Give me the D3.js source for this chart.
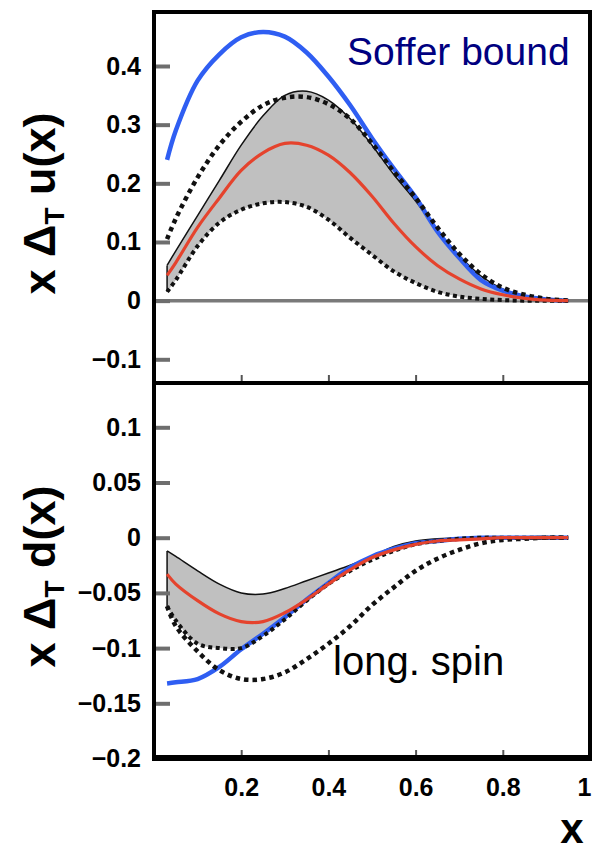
<!DOCTYPE html>
<html>
<head>
<meta charset="utf-8">
<script src="https://cdn.jsdelivr.net/npm/d3@7"></script>
<style>
  body { margin: 0; background: #fff; }
  svg { display: block; font-family: "Liberation Sans", Arial, sans-serif; }
</style>
</head>
<body>
<div id="chart"></div>
<script>
////////////////////////////// Data //////////////////////////////
var xGrid = [0.03, 0.05, 0.1, 0.15, 0.2, 0.25, 0.3, 0.35, 0.4, 0.45, 0.5, 0.55, 0.6, 0.65, 0.7, 0.75, 0.8, 0.85, 0.9, 0.95]

// x Delta_T u(x)
var uSoffer   = [0.24, 0.29, 0.375, 0.42, 0.449, 0.458, 0.45, 0.423, 0.382, 0.333, 0.277, 0.225, 0.176, 0.118, 0.073, 0.035, 0.017, 0.007, 0.002, 0]
var uUpper    = [0.06, 0.085, 0.145, 0.205, 0.265, 0.315, 0.35, 0.357, 0.342, 0.31, 0.265, 0.215, 0.17, 0.12, 0.077, 0.042, 0.02, 0.008, 0.002, 0]
var uLower    = [0.015, 0.035, 0.093, 0.133, 0.155, 0.166, 0.168, 0.16, 0.138, 0.107, 0.078, 0.05, 0.03, 0.015, 0.007, 0.003, 0.001, 0, 0, 0]
var uCentral  = [0.043, 0.065, 0.125, 0.175, 0.222, 0.252, 0.268, 0.265, 0.248, 0.218, 0.178, 0.132, 0.092, 0.06, 0.037, 0.02, 0.01, 0.004, 0.001, 0]
var uLongSpin = [0.105, 0.14, 0.21, 0.265, 0.305, 0.333, 0.346, 0.347, 0.335, 0.31, 0.268, 0.22, 0.175, 0.125, 0.08, 0.045, 0.022, 0.01, 0.003, 0]

// x Delta_T d(x)
var dSoffer   = [-0.132, -0.131, -0.128, -0.117, -0.101, -0.087, -0.072, -0.056, -0.041, -0.027, -0.017, -0.01, -0.005, -0.003, -0.001, 0, 0, 0, 0, 0]
var dUpper    = [-0.012, -0.017, -0.03, -0.042, -0.05, -0.051, -0.046, -0.039, -0.032, -0.025, -0.017, -0.008, -0.003, -0.001, 0, 0, 0, 0, 0, 0]
var dLower    = [-0.062, -0.075, -0.096, -0.1, -0.1, -0.089, -0.074, -0.057, -0.042, -0.03, -0.02, -0.012, -0.006, -0.003, -0.001, 0, 0, 0, 0, 0]
var dCentral  = [-0.033, -0.042, -0.057, -0.069, -0.076, -0.076, -0.068, -0.056, -0.042, -0.029, -0.018, -0.011, -0.006, -0.003, -0.002, -0.001, 0, 0, 0, 0]
var dLongSpin = [-0.062, -0.08, -0.103, -0.12, -0.128, -0.128, -0.122, -0.11, -0.096, -0.08, -0.061, -0.045, -0.03, -0.019, -0.011, -0.005, -0.002, -0.001, 0, 0]

var xTicks = [0.2, 0.4, 0.6, 0.8, 1]
var uTicks = [-0.1, 0, 0.1, 0.2, 0.3, 0.4]
var dTicks = [-0.2, -0.15, -0.1, -0.05, 0, 0.05, 0.1]

////////////////////////////// Setup //////////////////////////////
var totalWidth = 592, totalHeight = 851
var left = 154, right = 590

var svg = d3.select("#chart").append("svg")
  .attr("width", totalWidth)
  .attr("height", totalHeight)

var xScale = d3.scaleLinear().domain([0, 1]).range([left, right])

var panels = [
  { name: "u", top: 12, bottom: 383, domain: [-0.1, 0.4], range: [359.3, 66],
    soffer: uSoffer, upper: uUpper, lower: uLower, central: uCentral, longSpin: uLongSpin,
    ticks: uTicks, label: "u(x)", zero: true },
  { name: "d", top: 383, bottom: 758, domain: [-0.15, 0.1], range: [703.3, 427.3],
    soffer: dSoffer, upper: dUpper, lower: dLower, central: dCentral, longSpin: dLongSpin,
    ticks: dTicks, label: "d(x)", zero: false }
]

var tickFmt = function(d) { return d === 0 ? "0" : d3.format("")(+d.toFixed(2)).replace("-", "\u2212") }

panels.forEach(function(p) {
  var y = d3.scaleLinear().domain(p.domain).range(p.range)
  var g = svg.append("g")

  g.append("clipPath").attr("id", "clip-" + p.name)
    .append("rect")
      .attr("x", left).attr("y", p.top)
      .attr("width", right - left).attr("height", p.bottom - p.top)

  var plot = g.append("g").attr("clip-path", "url(#clip-" + p.name + ")")

  var rows = xGrid.map(function(x, i) {
    return { x: x, soffer: p.soffer[i], upper: p.upper[i], lower: p.lower[i], central: p.central[i], longSpin: p.longSpin[i] }
  })

  var curve = d3.curveCatmullRom.alpha(0.5)

  var line = function(key) {
    return d3.line().curve(curve)
      .x(function(d) { return xScale(d.x) })
      .y(function(d) { return y(d[key]) })
  }

  // zero line
  if (p.zero) {
    plot.append("line")
      .attr("x1", left).attr("x2", right)
      .attr("y1", y(0)).attr("y2", y(0))
      .attr("stroke", "#7a7a7a").attr("stroke-width", 3.5)
  }

  // uncertainty band
  plot.append("path").datum(rows)
    .attr("fill", "#c0c0c0")
    .attr("d", d3.area().curve(curve)
      .x(function(d) { return xScale(d.x) })
      .y0(function(d) { return y(d.lower) })
      .y1(function(d) { return y(d.upper) }))

  plot.append("path").datum(rows)
    .attr("fill", "none").attr("stroke", "#111").attr("stroke-width", 1.5)
    .attr("d", line("upper"))

  // band left edge
  plot.append("line")
    .attr("x1", xScale(xGrid[0])).attr("x2", xScale(xGrid[0]))
    .attr("y1", y(p.upper[0])).attr("y2", y(p.lower[0]))
    .attr("stroke", "#111").attr("stroke-width", 1.5)

  // Soffer bound
  plot.append("path").datum(rows)
    .attr("fill", "none").attr("stroke", "#2f5ef2").attr("stroke-width", 4.5)
    .attr("d", line("soffer"))

  plot.append("path").datum(rows)
    .attr("fill", "none").attr("stroke", "#111").attr("stroke-width", 4)
    .attr("stroke-dasharray", "4,3.5")
    .attr("d", line("lower"))

  // longitudinal spin
  plot.append("path").datum(rows)
    .attr("fill", "none").attr("stroke", "#111").attr("stroke-width", 4.5)
    .attr("stroke-dasharray", "4.5,4")
    .attr("d", line("longSpin"))

  // central fit
  plot.append("path").datum(rows)
    .attr("fill", "none").attr("stroke", "#e5432d").attr("stroke-width", 3.2)
    .attr("d", line("central"))

  // y axis
  var yAxis = g.append("g")
    .attr("transform", "translate(" + left + ",0)")
    .call(d3.axisLeft(y).tickValues(p.ticks).tickSizeInner(-16).tickSizeOuter(0).tickPadding(13).tickFormat(tickFmt))
  yAxis.select(".domain").remove()
  yAxis.selectAll(".tick line").attr("stroke", "#6e6e6e").attr("stroke-width", 4)
  yAxis.selectAll(".tick text")
    .attr("font-size", 25).attr("font-weight", "bold")
    .attr("font-family", "'Liberation Sans', Arial, sans-serif")
    .attr("fill", "#000")

  // x ticks on the bottom edge
  var xb = g.append("g").attr("transform", "translate(0," + p.bottom + ")")
    .call(d3.axisBottom(xScale).tickValues(xTicks.slice(0, 4)).tickSizeInner(-8).tickSizeOuter(0).tickFormat(""))
  xb.select(".domain").remove()
  xb.selectAll(".tick line").attr("stroke", "#555").attr("stroke-width", 2)

  // frame
  g.append("rect")
    .attr("x", left).attr("y", p.top)
    .attr("width", right - left).attr("height", p.bottom - p.top)
    .attr("fill", "none").attr("stroke", "#000").attr("stroke-width", 4)

  // y title
  var title = g.append("text")
    .attr("transform", "translate(55," + ((p.top + p.bottom) / 2 + 6) + ") rotate(-90)")
    .attr("text-anchor", "middle")
    .attr("font-size", 45).attr("font-weight", "bold")
  title.append("tspan").text("x \u0394")
  title.append("tspan").text("T").attr("font-size", 28).attr("dy", 9)
  title.append("tspan").text(" " + p.label).attr("dy", -9)
})

// thicker bottom edge
svg.append("line")
  .attr("x1", left - 2).attr("x2", right + 2)
  .attr("y1", 758).attr("y2", 758)
  .attr("stroke", "#000").attr("stroke-width", 6)

// x tick labels
var xAxis = svg.append("g").attr("transform", "translate(0,758)")
  .call(d3.axisBottom(xScale).tickValues(xTicks).tickSize(0).tickPadding(20).tickFormat(function(d) { return d === 1 ? "1" : d.toFixed(1) }))
xAxis.select(".domain").remove()
xAxis.selectAll(".tick text")
  .attr("font-size", 25).attr("font-weight", "bold")
  .attr("font-family", "'Liberation Sans', Arial, sans-serif")
  .attr("fill", "#000")
xAxis.selectAll(".tick text").filter(function(d) { return d === 1 }).attr("dx", -6)

svg.append("text")
  .attr("x", 572).attr("y", 843)
  .attr("text-anchor", "middle")
  .attr("font-size", 42).attr("font-weight", "bold")
  .text("x")

// annotations
svg.append("text")
  .attr("x", 347).attr("y", 65)
  .attr("font-size", 39).attr("fill", "#000080")
  .text("Soffer bound")

svg.append("text")
  .attr("x", 333).attr("y", 675)
  .attr("font-size", 40).attr("fill", "#000")
  .text("long. spin")
</script>
</body>
</html>
